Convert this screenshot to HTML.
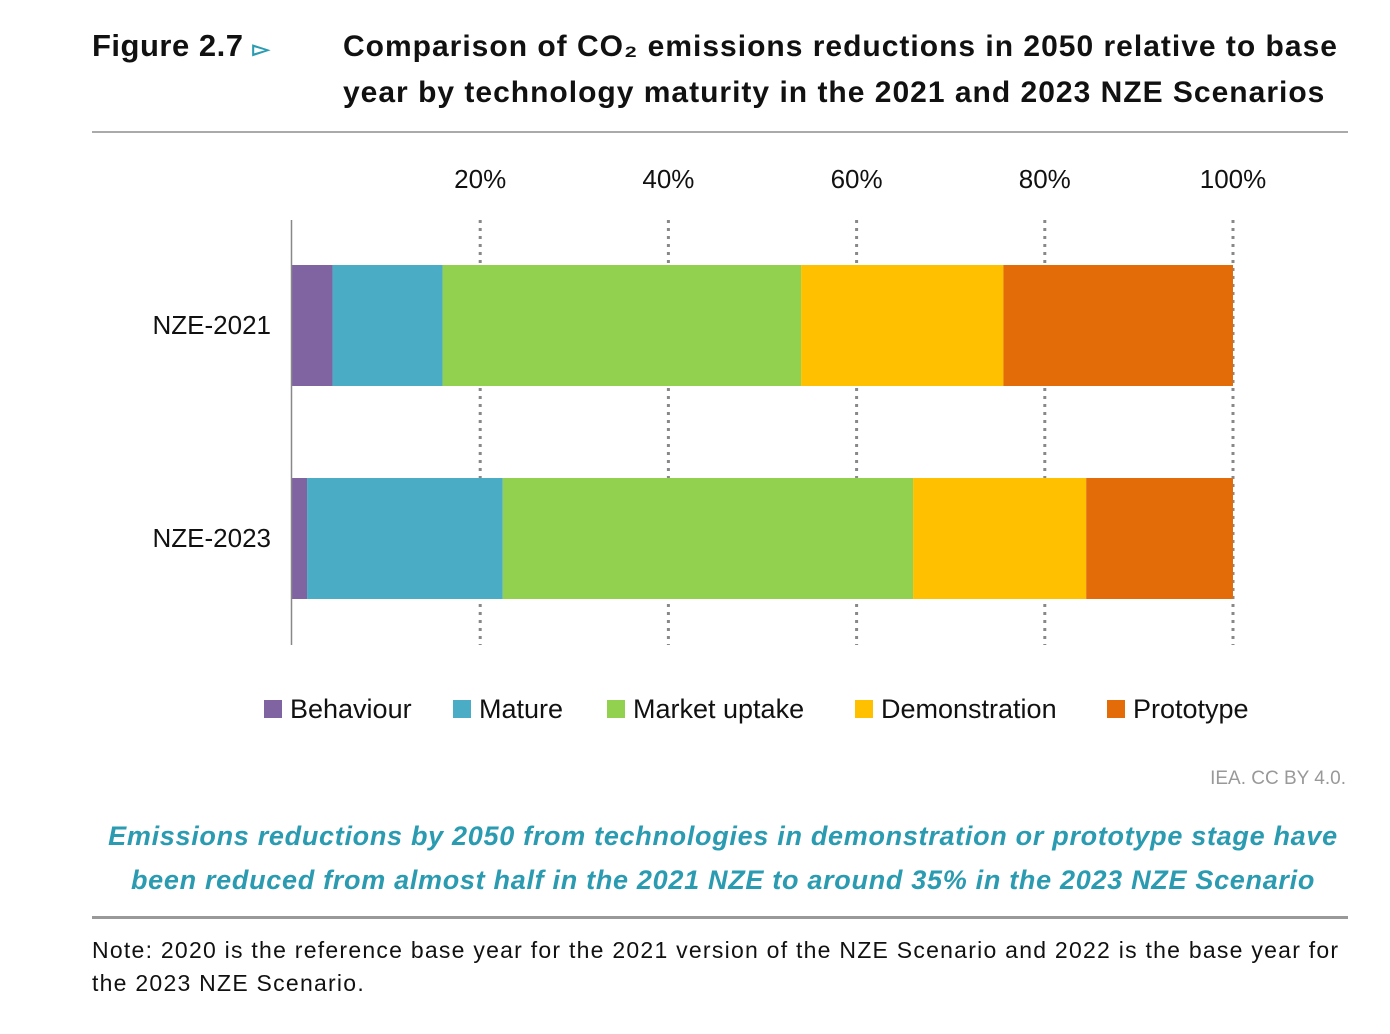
<!DOCTYPE html>
<html><head><meta charset="utf-8"><style>
body{margin:0;width:1390px;height:1034px;background:#fff;font-family:"Liberation Sans",sans-serif;position:relative;overflow:hidden}
.abs{position:absolute}
.t{font-weight:bold;font-size:29px;color:#111}
</style></head><body>
<div class="abs t" style="left:92px;top:28px;font-size:31px;font-weight:900;letter-spacing:0.5px">Figure 2.7 <span style="color:#2a9bb0;font-size:22px">▻</span></div>
<div class="abs t" style="left:343px;top:24px;line-height:46px;width:1040px;white-space:nowrap;letter-spacing:1px;font-size:30px">Comparison of CO₂ emissions reductions in 2050 relative to base<br>year by technology maturity in the 2021 and 2023 NZE Scenarios</div>
<div class="abs" style="left:92px;top:131px;width:1256px;height:2px;background:#aaa"></div>
<svg class="abs" style="left:0;top:0" width="1390" height="1034" id="chart"></svg>
<div class="abs" style="right:44px;top:768px;font-size:19px;color:#999">IEA. CC BY 4.0.</div>
<div class="abs" style="left:62px;width:1322px;top:814px;text-align:center;font-size:27px;line-height:44px;font-weight:bold;font-style:italic;color:#2a9bb0;white-space:nowrap;letter-spacing:0.7px">Emissions reductions by 2050 from technologies in demonstration or prototype stage have<br>been reduced from almost half in the 2021 NZE to around 35% in the 2023 NZE Scenario</div>
<div class="abs" style="left:92px;top:916px;width:1256px;height:3px;background:#999"></div>
<div class="abs" style="left:92px;top:934px;width:1290px;font-size:23px;line-height:33px;color:#111;white-space:nowrap;letter-spacing:1.25px">Note: 2020 is the reference base year for the 2021 version of the NZE Scenario and 2022 is the base year for<br>the 2023 NZE Scenario.</div>
<script>
const categories=["NZE-2021","NZE-2023"];
const seriesNames=["Behaviour","Mature","Market uptake","Demonstration","Prototype"];
const behaviour=[4.3,1.6];
const mature=[11.7,20.8];
const marketUptake=[38.1,43.6];
const demonstration=[21.5,18.4];
const prototype=[24.4,15.6];
const ticks=[20,40,60,80,100];
const colors=["#8064a2","#4bacc6","#92d050","#ffc000","#e36c09"];
const series=[behaviour,mature,marketUptake,demonstration,prototype];
const svg=document.getElementById('chart');
const NS="http://www.w3.org/2000/svg";
const x=v=>292+v*9.41;
const yc=[325,538];
function mk(tag,attrs){const e=document.createElementNS(NS,tag);for(const k in attrs)e.setAttribute(k,attrs[k]);svg.appendChild(e);return e;}
ticks.forEach(t=>{
  const l=mk('line',{x1:x(t),x2:x(t),y1:220,y2:645,stroke:'#888','stroke-width':3,'stroke-dasharray':'3,5'});
  
  
  const tx=mk('text',{x:x(t),y:188,'text-anchor':'middle','font-size':26,fill:'#111','font-family':'Liberation Sans, sans-serif'});
  tx.textContent=t+'%';
  
  
});
categories.forEach((c,i)=>{
  let acc=0;
  series.forEach((s,j)=>{
    const r=mk('rect',{x:x(acc),y:yc[i]-60,width:x(acc+s[i])-x(acc),height:121,fill:colors[j]});
    
    
    acc+=s[i];
  });
  const tx=mk('text',{x:271,y:yc[i]+9,'text-anchor':'end','font-size':26,fill:'#111','font-family':'Liberation Sans, sans-serif'});
  tx.textContent=c;
  
  
});
const ax=mk('line',{x1:291.5,x2:291.5,y1:220,y2:645,stroke:'#888','stroke-width':1.5});


const lx=[264,453,607,855,1107];
seriesNames.forEach((n,j)=>{
  const r=mk('rect',{x:lx[j],y:700,width:18,height:18,fill:colors[j]});
  
  
  const t=mk('text',{x:lx[j]+26,y:718,'font-size':27,fill:'#111','font-family':'Liberation Sans, sans-serif'});
  t.textContent=n;
  
  
});
</script>
</body></html>
